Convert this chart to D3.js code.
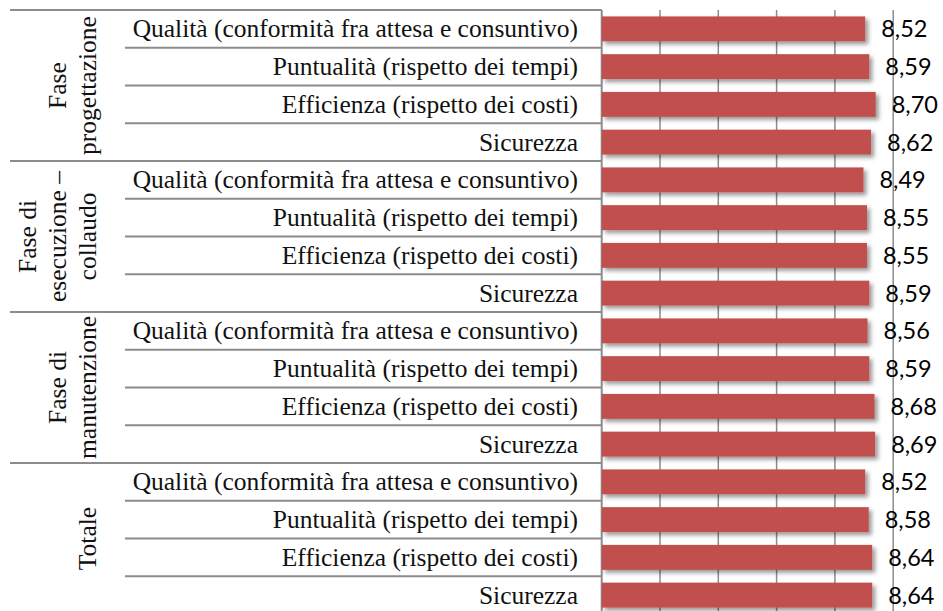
<!DOCTYPE html>
<html>
<head>
<meta charset="utf-8">
<script src="https://cdn.jsdelivr.net/npm/d3@7"></script>
<style>
  body { margin: 0; background: #fff; }
  svg { display: block; }
</style>
</head>
<body>
<svg id="chart"></svg>
<script>
// Data
const groupLines = [
  ['Fase', 'progettazione'],
  ['Fase di', 'esecuzione –', 'collaudo'],
  ['Fase di', 'manutenzione'],
  ['Totale']
];
const criteria = [
  'Qualità (conformità fra attesa e consuntivo)',
  'Puntualità (rispetto dei tempi)',
  'Efficienza (rispetto dei costi)',
  'Sicurezza'
];
const values = [
  8.52, 8.59, 8.70, 8.62,
  8.49, 8.55, 8.55, 8.59,
  8.56, 8.59, 8.68, 8.69,
  8.52, 8.58, 8.64, 8.64
];
const xDomain = [4, 10];
const xTicks = [5, 6, 7, 8, 9];

const config = {
  width: 943,
  height: 611,
  top: 10,
  rowStep: 37.75,
  axisX: 601.7,
  unit: 58.3,
  lineLeft: 10,
  rowLineLeft: 125,
  labelRight: 578,
  groupBaseline: 96,
  groupLineGap: 30,
  serifSize: 25.5,
  barColor: '#C0504D',
  lineColor: '#8c8c8c'
};

// one row per group x criterion
const rows = [];
groupLines.forEach((g, gi) => {
  criteria.forEach((c, ci) => {
    const i = gi * criteria.length + ci;
    rows.push({ id: i, group: gi, label: c, value: values[i] });
  });
});

const svg = d3.select('#chart')
    .attr('width', config.width)
    .attr('height', config.height);

const defs = svg.append('defs');
defs.append('filter')
    .attr('id', 'shadow')
    .attr('x', '-5%').attr('y', '-30%')
    .attr('width', '115%').attr('height', '180%')
  .append('feDropShadow')
    .attr('dx', 3)
    .attr('dy', 3)
    .attr('stdDeviation', 2.2)
    .attr('flood-color', '#000')
    .attr('flood-opacity', 0.4);

const y = d3.scaleBand()
    .domain(rows.map(d => d.id))
    .range([config.top, config.top + rows.length * config.rowStep])
    .paddingInner(0.34)
    .paddingOuter(0.17);

const x = d3.scaleLinear()
    .domain(xDomain)
    .range([config.axisX, config.axisX + (xDomain[1] - xDomain[0]) * config.unit]);

const bottom = config.top + rows.length * config.rowStep;

// vertical gridlines
svg.append('g')
  .selectAll('line')
  .data(xTicks)
  .join('line')
    .attr('x1', d => x(d)).attr('x2', d => x(d))
    .attr('y1', config.top).attr('y2', bottom)
    .attr('stroke', config.lineColor)
    .attr('stroke-width', 1.5);

// row separators (table on the left)
const boundaries = d3.range(0, rows.length + 1);
svg.append('g')
  .selectAll('line')
  .data(boundaries)
  .join('line')
    .attr('x1', i => (i % criteria.length === 0) ? config.lineLeft : config.rowLineLeft)
    .attr('x2', config.axisX)
    .attr('y1', i => config.top + i * config.rowStep)
    .attr('y2', i => config.top + i * config.rowStep)
    .attr('stroke', config.lineColor)
    .attr('stroke-width', 2);

// axis line
svg.append('line')
    .attr('x1', config.axisX).attr('x2', config.axisX)
    .attr('y1', config.top).attr('y2', bottom)
    .attr('stroke', config.lineColor)
    .attr('stroke-width', 2);

// bars
svg.append('g')
  .selectAll('rect')
  .data(rows)
  .join('rect')
    .attr('x', x(xDomain[0]))
    .attr('y', d => y(d.id))
    .attr('width', d => x(d.value) - x(xDomain[0]))
    .attr('height', y.bandwidth())
    .attr('fill', config.barColor)
    .attr('filter', 'url(#shadow)');

// value labels
const fmt = d3.format('.2f');
svg.append('g')
  .selectAll('text')
  .data(rows)
  .join('text')
    .attr('x', d => x(d.value) + 16)
    .attr('y', d => y(d.id) + y.bandwidth() / 2)
    .attr('dy', '0.36em')
    .attr('font-family', 'Lato, "Open Sans", sans-serif')
    .attr('font-size', 23.5)
    .attr('fill', '#000')
    .text(d => fmt(d.value).replace('.', ','));

// row labels
svg.append('g')
  .selectAll('text')
  .data(rows)
  .join('text')
    .attr('x', config.labelRight)
    .attr('y', d => y(d.id) + y.bandwidth() / 2)
    .attr('dy', '0.33em')
    .attr('text-anchor', 'end')
    .attr('font-family', '"Liberation Serif", serif')
    .attr('font-size', config.serifSize)
    .attr('fill', '#111')
    .text(d => d.label);

// group labels, rotated
const groupH = criteria.length * config.rowStep;
groupLines.forEach((lines, gi) => {
  const cy = config.top + gi * groupH + groupH / 2;
  lines.forEach((line, li) => {
    const bx = config.groupBaseline - (lines.length - 1 - li) * config.groupLineGap;
    svg.append('text')
        .attr('transform', `translate(${bx},${cy}) rotate(-90)`)
        .attr('text-anchor', 'middle')
        .attr('font-family', '"Liberation Serif", serif')
        .attr('font-size', config.serifSize)
        .attr('fill', '#111')
        .text(line);
  });
});
</script>
</body>
</html>
